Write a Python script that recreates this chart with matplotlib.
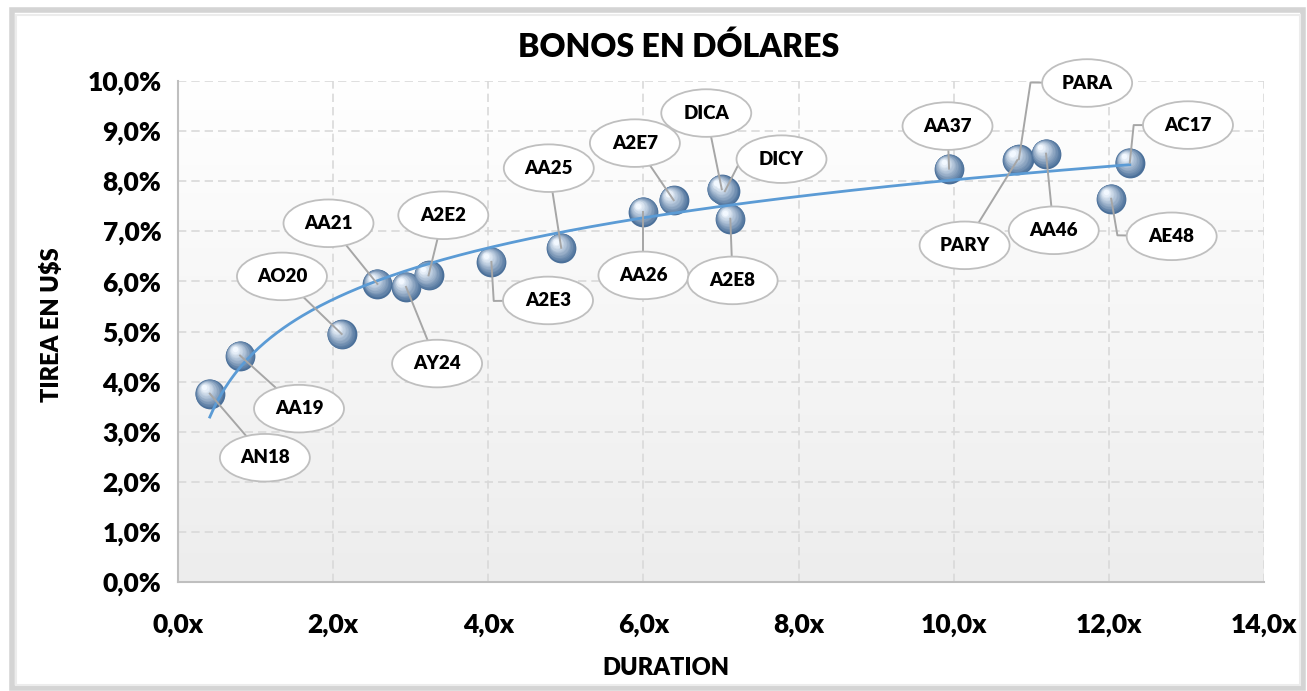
import numpy as np
import matplotlib
matplotlib.use("Agg")
import matplotlib.pyplot as plt
from matplotlib.patches import Ellipse, Rectangle
from matplotlib.colors import LinearSegmentedColormap, to_rgb
from matplotlib.transforms import ScaledTranslation

plt.rcParams['font.family'] = ['Lato', 'DejaVu Sans']
PESO = 'heavy'

# datos
bonos = ['AN18', 'AA19', 'AO20', 'AA21', 'AY24', 'A2E2', 'A2E3', 'AA25', 'AA26', 'A2E7',
         'DICA', 'DICY', 'A2E8', 'AA37', 'PARA', 'PARY', 'AA46', 'AC17', 'AE48']
duration = [0.41, 0.80, 2.11, 2.57, 2.94, 3.23, 4.04, 4.94, 6.00, 6.39,
            7.01, 7.05, 7.12, 9.94, 10.84, 10.82, 11.19, 12.27, 12.03]
tirea = [3.76, 4.52, 4.95, 5.95, 5.89, 6.12, 6.39, 6.67, 7.39, 7.62,
         7.84, 7.80, 7.25, 8.25, 8.44, 8.42, 8.55, 8.37, 7.65]

# posicion de cada etiqueta (centro de la elipse) y codo opcional del conector
lab_x = [1.12, 1.56, 1.34, 1.94, 3.34, 3.42, 4.77, 4.78, 6.00, 5.89,
         6.81, 7.78, 7.15, 9.92, 11.72, 10.14, 11.29, 13.02, 12.81]
lab_y = [2.48, 3.46, 6.10, 7.16, 4.36, 7.32, 5.62, 8.26, 6.12, 8.76,
         9.36, 8.44, 6.02, 9.10, 9.96, 6.72, 7.02, 9.12, 6.90]
codos = {'A2E3': (4.07, 5.61), 'DICY': (7.26, 8.44), 'PARA': (10.99, 9.97),
         'AC17': (12.32, 9.12), 'AE48': (12.11, 6.92)}

fig = plt.figure(figsize=(13.07, 6.91), dpi=100)
W, H = 1307, 691
ax = fig.add_axes([178 / W, 1 - 582 / H, (1264 - 178) / W, (582 - 81) / H])

# marco del grafico
fig.patches.append(Rectangle((12 / W, 3 / H), (1303 - 12) / W, (681 - 3) / H, transform=fig.transFigure,
                             fill=False, ec='#d4d4d4', lw=4, zorder=0))
fig.patches.append(Rectangle((16 / W, 6 / H), (1300 - 16) / W, (676 - 6) / H, transform=fig.transFigure,
                             fill=False, ec='#ececec', lw=1.5, zorder=0))

ax.set_xlim(0, 14)
ax.set_ylim(0, 10)

# fondo degradado
grad = LinearSegmentedColormap.from_list('g', ['#ededed', '#ffffff'])
ax.imshow(np.linspace(0, 1, 256).reshape(-1, 1), extent=[0, 14, 0, 10], origin='lower',
          aspect='auto', cmap=grad, zorder=0)

ax.set_xticks(np.arange(0, 15, 2))
ax.set_yticks(np.arange(0, 11, 1))
ax.set_xticklabels([f"{v:.1f}x".replace('.', ',') for v in np.arange(0, 15, 2)])
ax.set_yticklabels([f"{v:.1f}%".replace('.', ',') for v in np.arange(0, 11, 1)])
ax.grid(True, color='#d9d9d9', ls=(0, (5, 3)), lw=1.2, zorder=1)
for s in ['top', 'right']:
    ax.spines[s].set_visible(False)
for s in ['left', 'bottom']:
    ax.spines[s].set_color('#bfbfbf')
    ax.spines[s].set_linewidth(1.5)
ax.tick_params(length=0, labelsize=19, pad=12)
for t in ax.get_xticklabels() + ax.get_yticklabels():
    t.set_fontweight(PESO)
ax.tick_params(axis='x', pad=22)

# esferas
dark = np.array(to_rgb('#4a6f99'))
light = np.array(to_rgb('#f2f8ff'))
n = 14
for k in range(n):
    f = k / (n - 1)
    col = dark * (1 - f) + light * f
    size = 460 * (1 - 0.88 * f) ** 1.6
    off = ScaledTranslation(-4 * f / 72, 4.5 * f / 72, fig.dpi_scale_trans)
    ax.scatter(duration, tirea, s=size, color=col, lw=0, zorder=2 + k * 0.01,
               transform=ax.transData + off)

# linea de tendencia logaritmica
dx = np.array(duration)
a, b = np.polyfit(np.log(dx), np.array(tirea), 1)
xt = np.linspace(dx.min(), dx.max(), 300)
ax.plot(xt, a * np.log(xt) + b, color='#5b9bd5', lw=2, zorder=3)

# etiquetas con elipses y conectores
for name, px, py, lx, ly in zip(bonos, duration, tirea, lab_x, lab_y):
    if name in codos:
        kx, ky = codos[name]
        ax.plot([px, kx, lx], [py, ky, ly], color='#a6a6a6', lw=1.4, zorder=4, clip_on=False)
    else:
        ax.plot([px, lx], [py, ly], color='#a6a6a6', lw=1.4, zorder=4, clip_on=False)
    ax.add_patch(Ellipse((lx, ly), 1.16, 0.95, fc='white', ec='#bfbfbf', lw=1.3, zorder=5, clip_on=False))
    ax.text(lx, ly, name, ha='center', va='center', fontsize=13.5, fontweight=PESO, zorder=6)

fig.text(679 / W, 1 - 47 / H, 'BONOS EN DÓLARES', ha='center', va='center', fontsize=23, fontweight=PESO)
fig.text(666 / W, 1 - 668 / H, 'DURATION', ha='center', va='center', fontsize=17, fontweight=PESO)
fig.text(52 / W, 1 - 325 / H, 'TIREA EN U$S', ha='center', va='center', rotation=90, fontsize=17,
         fontweight=PESO)

fig.savefig('out.png', dpi=100, facecolor='white')
